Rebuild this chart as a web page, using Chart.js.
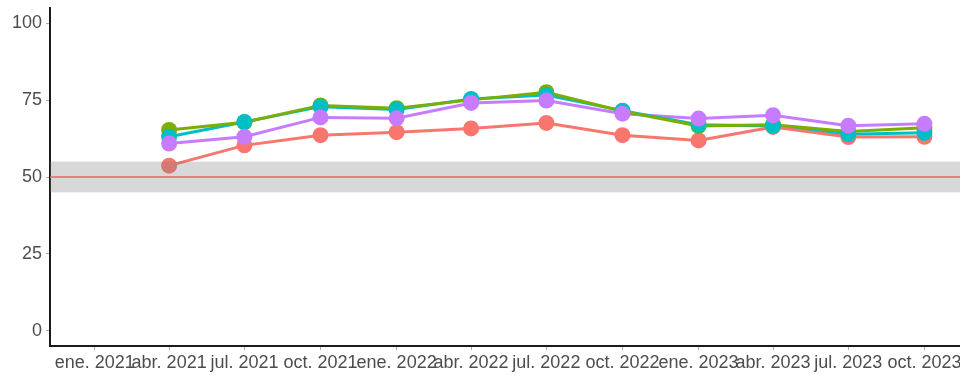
<!DOCTYPE html>
<html>
<head>
<meta charset="utf-8">
<script src="https://cdn.jsdelivr.net/npm/chart.js@4.4.1/dist/chart.umd.min.js"></script>
<style>
html,body{margin:0;padding:0;background:#fff;overflow:hidden}
#wrap{width:960px;height:375px;overflow:hidden}
</style>
</head>
<body>
<div id="wrap"><canvas id="chart" width="1000" height="375"></canvas></div>
<script>
// days counted from 1 Jan 2021
const tickDays=[0,90,181,273,365,455,546,638,730,820,911,1003]
const tickLabels=["ene. 2021","abr. 2021","jul. 2021","oct. 2021","ene. 2022","abr. 2022","jul. 2022","oct. 2022","ene. 2023","abr. 2023","jul. 2023","oct. 2023"]

const pointDays=[90,181,273,365,455,546,638,730,820,911,1003]
const seriesRed=[53.7,60.3,63.6,64.6,65.8,67.6,63.6,61.9,66.3,63.0,63.1]
const seriesGreen=[65.3,67.8,73.3,72.4,75.1,77.6,71.4,66.6,67.0,64.8,66.0]
const seriesTeal=[63.1,67.9,72.9,72.0,75.4,76.7,71.6,67.0,66.6,63.9,64.4]
const seriesPurple=[60.9,63.1,69.4,69.1,74.1,74.9,70.6,69.0,70.1,66.7,67.3]

const colors=["#F8766D","#7CAE00","#00BFC4","#C77CFF"]

// reference band and line
const bandLow=45
const bandHigh=55
const refLine=50

function makeSet(values,color){
return {
data:values.map((v,i)=>({x:pointDays[i],y:v})),
borderColor:color,
backgroundColor:color,
borderWidth:3,
pointRadius:8,
pointHoverRadius:8,
pointBorderWidth:0,
tension:0
}
}

const allSets=[seriesRed,seriesGreen,seriesTeal,seriesPurple].map((s,i)=>makeSet(s,colors[i]))

// lines first, then points on top of every line
const linesOnly=allSets.map(d=>Object.assign({},d,{pointRadius:0,order:2}))
const pointsOnly=allSets.map((d,i)=>Object.assign({},d,{showLine:false,order:1-i*0.01}))

const bandPlugin={
id:"band",
afterDatasetsDraw(chart){
const {ctx,chartArea,scales}=chart
const y=scales.y
const top=y.getPixelForValue(bandHigh)
const bottom=y.getPixelForValue(bandLow)
const w=chartArea.right-chartArea.left
ctx.save()
ctx.fillStyle="rgba(127,127,127,0.3)"
ctx.fillRect(chartArea.left,top,w,bottom-top)
ctx.strokeStyle="#EC6464"
ctx.lineWidth=1.5
ctx.beginPath()
const ly=y.getPixelForValue(refLine)
ctx.moveTo(chartArea.left,ly)
ctx.lineTo(chartArea.right,ly)
ctx.stroke()
ctx.restore()
}
}

const font={family:"'Liberation Sans', Arial, sans-serif",size:18}

new Chart(document.getElementById("chart"),{
type:"line",
data:{datasets:[...linesOnly,...pointsOnly]},
options:{
responsive:false,
animation:false,
devicePixelRatio:1,
layout:{padding:{top:0,right:40,left:0,bottom:0}},
plugins:{legend:{display:false},tooltip:{enabled:false}},
scales:{
x:{
type:"linear",
min:-54,
max:1046,
afterBuildTicks(scale){
scale.ticks=tickDays.map(v=>({value:v}))
},
afterFit(scale){
scale.height=29
scale.paddingLeft=0
scale.paddingRight=0
},
ticks:{
autoSkip:false,
maxRotation:0,
padding:2,
color:"#4D4D4D",
font:font,
callback:(v)=>tickLabels[tickDays.indexOf(v)]
},
grid:{drawOnChartArea:false,drawTicks:true,tickLength:4,tickColor:"#aaa",tickWidth:1},
border:{display:true,color:"#1a1a1a",width:2}
},
y:{
min:-5,
max:105,
afterBuildTicks(scale){
scale.ticks=[0,25,50,75,100].map(v=>({value:v}))
},
afterFit(scale){
scale.width=50
scale.paddingTop=0
scale.paddingBottom=0
},
ticks:{padding:4,color:"#4D4D4D",font:font},
grid:{drawOnChartArea:false,drawTicks:true,tickLength:4,tickColor:"#aaa",tickWidth:1},
border:{display:true,color:"#1a1a1a",width:2}
}
}
},
plugins:[bandPlugin]
})
</script>
</body>
</html>
